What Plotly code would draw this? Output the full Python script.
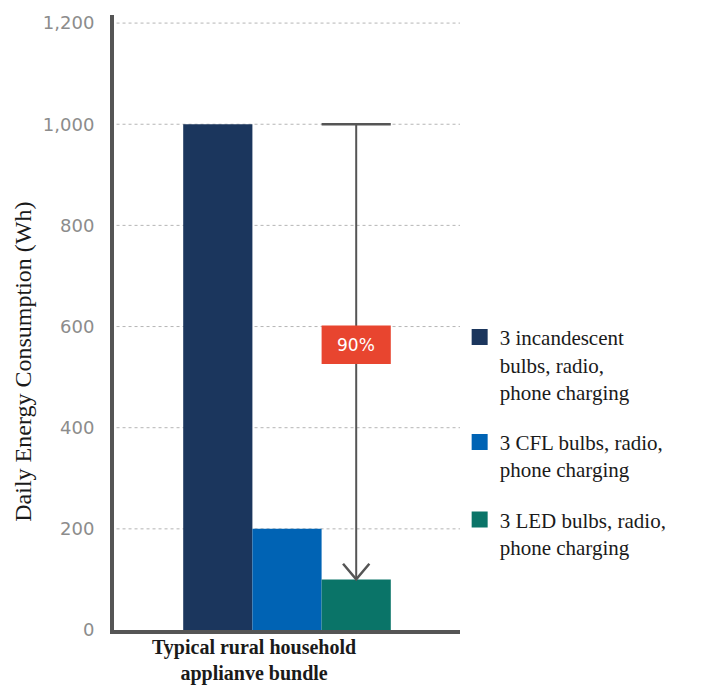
import plotly.graph_objects as go

# Daily energy use of a typical rural household appliance bundle, by bulb type
bundle = "Typical rural household<br>applianve bundle"
series_names = [
    "3 incandescent<br>bulbs, radio,<br>phone charging",
    "3 CFL bulbs, radio,<br>phone charging",
    "3 LED bulbs, radio,<br>phone charging",
]
series_values = [1000, 200, 100]
series_colors = ["#1b365d", "#0063b4", "#0a7468"]
reduction_label = "90%"
y_ticks = [0, 200, 400, 600, 800, 1000, 1200]
y_tick_text = ["0", "200", "400", "600", "800", "1,000", "1,200"]

fig = go.Figure()
for i, (name, val, col) in enumerate(zip(series_names, series_values, series_colors)):
    fig.add_trace(go.Bar(x=[0], y=[val], name=name, marker_color=col,
                         marker_line_width=0, showlegend=False,
                         legendgroup=f"g{i}"))
# legend keys: large square swatches
for i, (name, col) in enumerate(zip(series_names, series_colors)):
    fig.add_trace(go.Scatter(x=[None], y=[None], mode="markers", name=name,
                             marker=dict(symbol="square", size=20, color=col),
                             legendgroup=f"g{i}", showlegend=True))

# bar centres within the group (3 bars, bargap 0.4 -> each bar 0.2 wide)
bar_w = 0.2
led_x = bar_w  # centre of third bar
top_val = series_values[0]
end_val = series_values[2]

shapes = []
# gridlines (dotted) drawn below the bars
for t in y_ticks[1:]:
    shapes.append(dict(type="line", xref="x", yref="y", x0=-0.51, x1=0.5,
                       y0=t, y1=t, layer="below",
                       line=dict(color="#b5b5b5", width=1, dash="dot")))
# reduction arrow: cap, shaft, open head
shapes.append(dict(type="line", xref="x", yref="y", x0=led_x - bar_w / 2,
                   x1=led_x + bar_w / 2, y0=top_val, y1=top_val,
                   line=dict(color="#555555", width=2.5)))
shapes.append(dict(type="line", xref="x", yref="y", x0=led_x, x1=led_x,
                   y0=top_val, y1=end_val,
                   line=dict(color="#555555", width=2)))
hx, hy = 0.038, 31
shapes.append(dict(type="path", xref="x", yref="y",
                   path=f"M {led_x - hx},{end_val + hy} L {led_x},{end_val} L {led_x + hx},{end_val + hy}",
                   line=dict(color="#555555", width=2.5)))
# label box
shapes.append(dict(type="rect", xref="x", yref="y", x0=led_x - bar_w / 2,
                   x1=led_x + bar_w / 2, y0=526, y1=602,
                   fillcolor="#e8452f", line=dict(width=0)))

annotations = [
    dict(x=led_x, y=564, xref="x", yref="y", text=reduction_label,
         showarrow=False, font=dict(family="DejaVu Sans", size=17, color="white")),
    dict(x=-0.305, y=0.437, xref="paper", yref="paper",
         text="Daily Energy Consumption (Wh)", textangle=-90, showarrow=False,
         font=dict(family="Liberation Serif", size=24, color="#1a1a1a")),
    # category label below the axis
    dict(x=0.405, y=-0.007, xref="paper", yref="paper", yanchor="top",
         text=f"<b>{bundle}</b>", showarrow=False,
         font=dict(family="Liberation Serif", size=20, color="#1a1a1a")),
]

fig.update_layout(
    width=709, height=689,
    margin=dict(l=114, r=249, t=12, b=59),
    paper_bgcolor="white", plot_bgcolor="white",
    barmode="group", bargap=0.4, bargroupgap=0,
    showlegend=True,
    legend=dict(x=0.999, y=0.509, xanchor="left", yanchor="top",
                valign="top", tracegroupgap=20, itemsizing="trace",
                font=dict(family="Liberation Serif", size=21, color="#1a1a1a")),
    shapes=shapes,
    annotations=annotations,
    xaxis=dict(range=[-0.5, 0.5], showticklabels=False, showgrid=False,
               zeroline=False, showline=True, linecolor="#555555",
               linewidth=4, ticks=""),
    yaxis=dict(range=[0, 1216], tickvals=y_ticks, ticktext=y_tick_text,
               showgrid=False, zeroline=False, showline=True,
               linecolor="#555555", linewidth=4, ticks="",
               tickfont=dict(family="DejaVu Sans", size=18, color="#8c8c8c"),
               ticklabelstandoff=12),
)

fig.write_html("out.html")
